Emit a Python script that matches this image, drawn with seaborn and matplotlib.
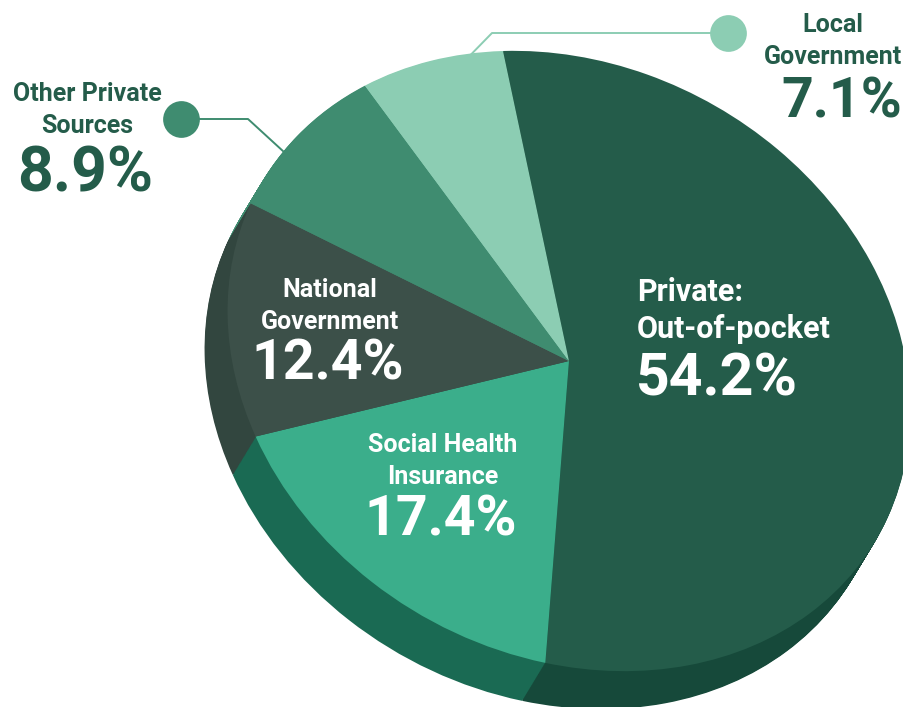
import numpy as np
import seaborn as sns
import matplotlib.pyplot as plt
from matplotlib.transforms import Affine2D

sources = ["Private:\nOut-of-pocket", "Social Health\nInsurance", "National\nGovernment",
           "Other Private\nSources", "Local\nGovernment"]
shares = [54.2, 17.4, 12.4, 8.9, 7.1]
top_colors = ["#245c4a", "#3bae8b", "#3c5049", "#3f8c70", "#8ccdb3"]
side_colors = ["#16493a", "#1a6a53", "#32463f", "#3f8c70", "#8ccdb3"]
dark_text = "#245c4a"

sns.set_theme(style="white")
plt.rcParams["font.family"] = ["Roboto", "DejaVu Sans"]

fig = plt.figure(figsize=(9.04, 7.07), dpi=100)
ax = fig.add_axes([0, 0, 1, 1])


# tilted ellipse: unit pie -> picture pixels
def squash(dx=0, dy=0):
    m = np.array([[335, -66, 569 + dx], [-10, -310, 361 + dy], [0, 0, 1]], dtype=float)
    return Affine2D(m) + ax.transData


def draw_pie(colors, dx=0, dy=0):
    wedges, _ = ax.pie(shares, colors=colors, startangle=90, counterclock=False)
    for w in wedges:
        w.set_transform(squash(dx, dy))
        w.set_linewidth(0)


# side wall of the disc, bottom copy first
for t in np.linspace(1, 0, 45)[:-1]:
    draw_pie(side_colors, -23 * t, 38 * t)
draw_pie(top_colors)

ax.set_xlim(0, 904)
ax.set_ylim(707, 0)
ax.set_aspect("auto")
ax.axis("off")

# leader lines and dots
ax.plot([181, 248, 284], [119, 119, 152], color=top_colors[3], lw=1.4, zorder=5)
ax.scatter([181], [119], s=700, color=top_colors[3], linewidths=0, zorder=6)
ax.plot([728, 492, 450], [33, 33, 76], color=top_colors[4], lw=1.4, zorder=5)
ax.scatter([728], [33], s=700, color=top_colors[4], linewidths=0, zorder=6)


def label(i, x, y, pct_x, pct_y, color, ha="center", pct_size=40, size=18, gap=32):
    lines = sources[i].split("\n")
    for k, line in enumerate(lines):
        ax.text(x, y + k * gap, line, color=color, ha=ha, va="center",
                fontsize=size, fontweight="bold", zorder=7)
    ax.text(pct_x, pct_y, f"{shares[i]}%", color=color, ha=ha, va="center",
            fontsize=pct_size, fontweight="bold", zorder=7)


label(0, 637, 292, 636, 380, "white", ha="left", pct_size=42.5, size=22, gap=37)
label(1, 443, 445, 441, 520, "white")
label(2, 330, 290, 328, 365, "white")
label(3, 87, 94, 85, 174, dark_text, pct_size=45)
label(4, 833, 25, 842, 103, dark_text)

fig.savefig("out.png", dpi=100, facecolor="white")
